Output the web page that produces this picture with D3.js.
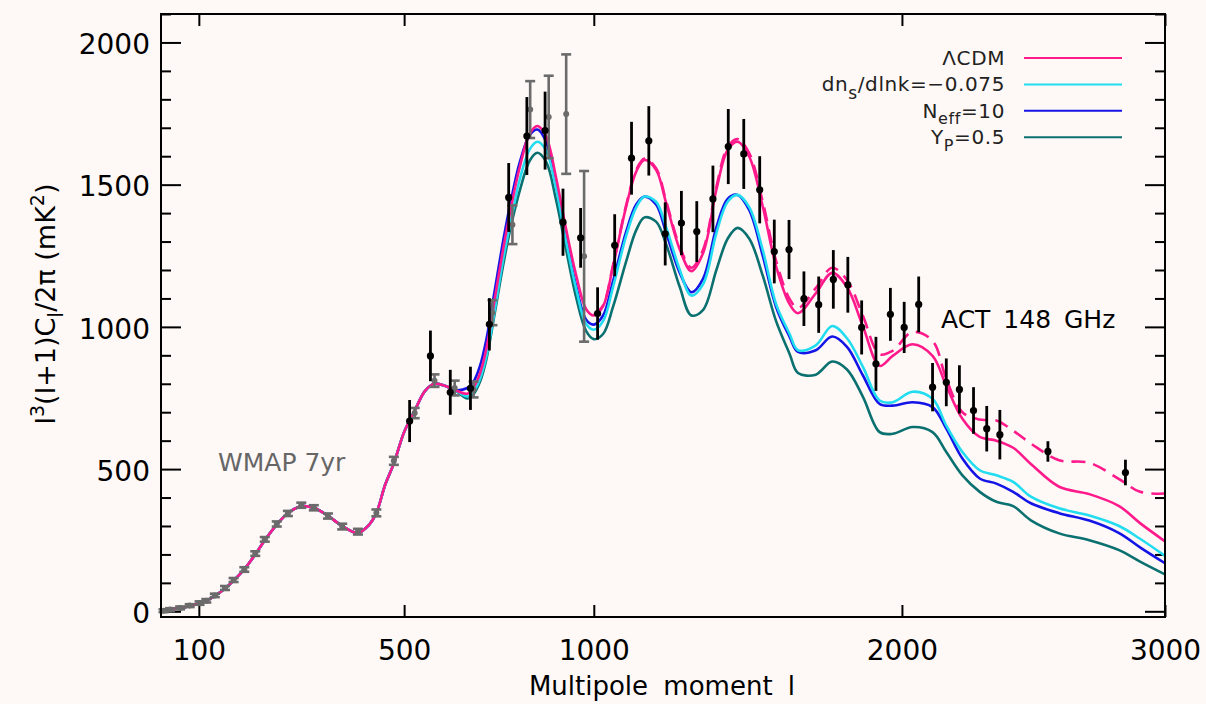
<!DOCTYPE html>
<html>
<head>
<meta charset="utf-8">
<script src="https://cdn.jsdelivr.net/npm/d3@7"></script>
<style>
  html, body { margin: 0; padding: 0; background: #fef9f6; }
  svg { display: block; font-family: "DejaVu Sans", sans-serif; }
</style>
</head>
<body>
<div id="chart"></div>
<script>

// ---- data ----
const xTicks = [100, 500, 1000, 2000, 3000]
const yTicks = [0, 500, 1000, 1500, 2000]

// low multipoles: all four models lie on top of each other
const lowEll = [50,60,75,87,100,111,124,140,154,172,191,208,230,251,277,302,331,361,395,420,436,456,476,500,525,550,573,600,623]
const lowVal = [3,6,12,19,28,37,54,80,108,148,200,250,305,345,369,364,336,300,276,305,346,445,520,630,705,775,800,792,778]

// higher multipoles, one value per model
const thEll = [655,670,687,704,725,748,770,793,820,841,865,892,921,950,978,1000,1027,1056,1095,1125,1150,1185,1216,1258,1294,1331,1373,1409,1441,1479,1523,1567,1612,1640,1700,1756,1807,1862,1921,1967,2038,2110,2160,2219,2283,2345,2408,2475,2583,2700,2817,2900,3000]
const lcdm = [765,785,834,922,1090,1271,1425,1563,1680,1706,1669,1528,1342,1178,1062,1040,1073,1213,1423,1546,1587,1552,1435,1272,1196,1260,1482,1622,1651,1598,1423,1213,1080,1048,1118,1190,1140,1003,863,898,939,898,793,677,613,600,575,518,438,412,370,310,246]
const running = [755,770,815,895,1050,1235,1380,1520,1625,1651,1620,1490,1300,1130,1010,990,1020,1140,1320,1420,1458,1440,1350,1200,1110,1150,1330,1440,1464,1420,1270,1080,975,918,935,1003,960,860,741,735,772,747,653,560,496,478,455,403,362,337,300,255,195]
const neff = [785,805,860,955,1120,1300,1450,1580,1675,1694,1650,1500,1310,1140,1025,1008,1040,1160,1335,1430,1458,1430,1330,1190,1122,1170,1350,1450,1464,1410,1250,1070,965,912,918,966,930,830,729,723,735,718,642,537,467,449,420,380,345,319,275,225,169]
const yp = [748,762,805,885,1040,1215,1360,1480,1585,1612,1580,1450,1270,1100,985,957,975,1070,1230,1340,1385,1370,1290,1140,1040,1060,1200,1310,1348,1310,1180,1020,905,838,832,878,850,755,630,624,648,630,560,478,420,385,370,320,274,250,215,175,130]

// LCDM plus secondaries (dashed), from l = 1000 up
const dashEll = [1000,1027,1056,1095,1125,1150,1185,1216,1258,1294,1331,1373,1409,1441,1479,1523,1567,1612,1640,1700,1756,1807,1862,1921,1967,2038,2110,2160,2219,2283,2345,2408,2475,2583,2700,2817,2900,3000]
const dashVal = [1042,1076,1216,1428,1552,1592,1558,1442,1282,1208,1272,1492,1632,1660,1610,1440,1232,1098,1066,1136,1208,1165,1040,904,916,982,951,817,700,674,671,635,590,531,522,465,420,414]

// WMAP 7yr band powers
const wmapEll = [53,61,74,87,101,111,124,140,154,172,191,208,230,251,277,302,331,361,395,436,476,525,573,623,671,720,773,821,872,921,972]
const wmapVal = [2,6,12,20,29,37,56,82,110,147,203,253,307,344,373,364,335,298,280,346,529,697,811,785,780,1050,1359,1764,1738,1748,1248]
const wmapErr = [5,5,5,5,6,6,6,7,7,8,8,8,9,9,9,9,9,10,10,12,14,18,22,26,28,44,68,100,145,210,300]

// ACT 148 GHz band powers
const actEll = [513,563,612,663,712,763,812,862,912,962,1011,1061,1111,1163,1213,1263,1311,1362,1411,1461,1513,1561,1610,1660,1710,1760,1810,1858,1908,1959,2008,2060,2110,2160,2208,2260,2309,2358,2540,2842]
const actVal = [669,898,770,784,1009,1455,1671,1690,1368,1313,1047,1287,1593,1654,1327,1365,1335,1450,1634,1608,1482,1265,1272,1099,1078,1167,1148,998,870,1044,998,1079,788,805,780,706,642,621,562,488]
const actErr = [74,89,79,76,92,121,137,137,118,105,92,109,128,122,111,113,107,117,132,123,118,112,104,96,99,103,98,95,95,93,90,98,85,84,85,82,80,87,36,45]

const legendKeys = ["lcdm", "running", "neff", "yp"]
const colors = { lcdm: "#ff1a8c", running: "#22dcf0", neff: "#1414e6", yp: "#0a7070" }

// ---- layout ----
const margin = {top: 14, right: 41, bottom: 87, left: 161}
const width = 1206 - margin.left - margin.right
const height = 704 - margin.top - margin.bottom

const svg = d3.select("#chart").append("svg")
    .attr("width", 1206)
    .attr("height", 704)
    .style("background", "#fef9f6")

const g = svg.append("g")
    .attr("transform", `translate(${margin.left},${margin.top})`)

const x = d3.scalePow().exponent(0.7)
    .domain([50, 3000])
    .range([0, width])

const y = d3.scaleLinear()
    .domain([-20, 2100])
    .range([height, 0])

g.append("clipPath")
    .attr("id", "clip")
    .append("rect")
    .attr("width", width)
    .attr("height", height)

// ---- axes ----
function styleAxis(sel) {
    sel.select(".domain").remove()
    sel.selectAll(".tick line").attr("stroke", "#000").attr("stroke-width", 2)
    sel.selectAll(".tick text")
        .attr("fill", "#000")
        .style("font-family", '"DejaVu Sans", sans-serif')
        .style("font-size", "28px")
}

g.append("g")
    .attr("transform", `translate(0,${height})`)
    .call(d3.axisBottom(x).tickValues(xTicks).tickSize(-12).tickPadding(23).tickFormat(d3.format("d")))
    .call(styleAxis)

g.append("g")
    .call(d3.axisTop(x).tickValues(xTicks).tickSize(-12).tickFormat(""))
    .call(styleAxis)

const yMinor = d3.range(100, 2101, 100).filter(d => d % 500 !== 0)

g.append("g")
    .call(d3.axisLeft(y).tickValues(yTicks).tickSize(-20).tickPadding(11).tickFormat(d3.format("d")))
    .call(styleAxis)
    .selectAll(".tick text").attr("dy", "0.4em")

g.append("g")
    .call(d3.axisLeft(y).tickValues(yMinor).tickSize(-10).tickFormat(""))
    .call(styleAxis)

g.append("g")
    .attr("transform", `translate(${width},0)`)
    .call(d3.axisRight(y).tickValues(yTicks).tickSize(-20).tickFormat(""))
    .call(styleAxis)

g.append("g")
    .attr("transform", `translate(${width},0)`)
    .call(d3.axisRight(y).tickValues(yMinor).tickSize(-10).tickFormat(""))
    .call(styleAxis)

// ---- model curves ----
const lineGen = d3.line()
    .x(d => x(d[0]))
    .y(d => y(d[1]))
    .curve(d3.curveCatmullRom.alpha(0.5))

const allEll = lowEll.concat(thEll)
const models = {
    lcdm: allEll.map((l, i) => [l, lowVal.concat(lcdm)[i]]),
    running: allEll.map((l, i) => [l, lowVal.concat(running)[i]]),
    neff: allEll.map((l, i) => [l, lowVal.concat(neff)[i]]),
    yp: allEll.map((l, i) => [l, lowVal.concat(yp)[i]])
}

const curves = g.append("g").attr("clip-path", "url(#clip)")

;["yp", "neff", "running", "lcdm"].forEach(k => {
    curves.append("path")
        .attr("d", lineGen(models[k]))
        .attr("fill", "none")
        .attr("stroke", colors[k])
        .attr("stroke-width", 2.6)
})

curves.append("path")
    .attr("d", lineGen(dashEll.map((l, i) => [l, dashVal[i]])))
    .attr("fill", "none")
    .attr("stroke", colors.lcdm)
    .attr("stroke-width", 2.6)
    .attr("stroke-dasharray", "14,8")

// ---- WMAP points ----
const wmap = wmapEll.map((l, i) => ({l, v: wmapVal[i], e: wmapErr[i]}))
const wg = g.append("g").attr("stroke", "#6b6b6b").attr("stroke-width", 2.6)

wg.selectAll(".wbar").data(wmap).join("line")
    .attr("class", "wbar")
    .attr("x1", d => x(d.l)).attr("x2", d => x(d.l))
    .attr("y1", d => y(d.v - d.e)).attr("y2", d => y(d.v + d.e))

wg.selectAll(".wcapTop").data(wmap).join("line")
    .attr("class", "wcapTop")
    .attr("x1", d => x(d.l) - 5).attr("x2", d => x(d.l) + 5)
    .attr("y1", d => y(d.v + d.e)).attr("y2", d => y(d.v + d.e))

wg.selectAll(".wcapBot").data(wmap).join("line")
    .attr("class", "wcapBot")
    .attr("x1", d => x(d.l) - 5).attr("x2", d => x(d.l) + 5)
    .attr("y1", d => y(d.v - d.e)).attr("y2", d => y(d.v - d.e))

g.append("g").selectAll("circle").data(wmap).join("circle")
    .attr("cx", d => x(d.l)).attr("cy", d => y(d.v))
    .attr("r", 3)
    .attr("fill", "#6b6b6b")

// ---- ACT points ----
const act = actEll.map((l, i) => ({l, v: actVal[i], e: actErr[i]}))
const ag = g.append("g")

ag.selectAll("line").data(act).join("line")
    .attr("x1", d => x(d.l)).attr("x2", d => x(d.l))
    .attr("y1", d => y(d.v - d.e)).attr("y2", d => y(d.v + d.e))
    .attr("stroke", "#000")
    .attr("stroke-width", 2.8)

ag.selectAll("circle").data(act).join("circle")
    .attr("cx", d => x(d.l)).attr("cy", d => y(d.v))
    .attr("r", 3.6)
    .attr("fill", "#000")

// frame
g.append("rect")
    .attr("width", width)
    .attr("height", height)
    .attr("fill", "none")
    .attr("stroke", "#000")
    .attr("stroke-width", 2)

// ---- annotations ----
g.append("text")
    .attr("x", 218 - margin.left)
    .attr("y", 471 - margin.top)
    .attr("fill", "#666")
    .style("font-size", "25px")
    .text("WMAP  7yr")

g.append("text")
    .attr("x", 941 - margin.left)
    .attr("y", 328 - margin.top)
    .attr("fill", "#000")
    .style("font-size", "25px")
    .style("word-spacing", "5px")
    .text("ACT 148 GHz")

// ---- legend ----
const legend = g.append("g")
    .attr("transform", `translate(0,${58 - margin.top})`)

const legendLabels = [
    [["ΛCDM", 0, 20]],
    [["dn", 0, 20], ["s", 8, 17], ["/dlnk=−0.075", -8, 20]],
    [["N", 0, 20], ["eff", 6, 16], ["=10", -6, 20]],
    [["Y", 0, 20], ["P", 7, 16], ["=0.5", -7, 20]]
]

legendKeys.forEach((k, i) => {
    const row = legend.append("g").attr("transform", `translate(0,${i * 26.4})`)
    row.append("line")
        .attr("x1", 1024 - margin.left).attr("x2", 1122 - margin.left)
        .attr("y1", 0).attr("y2", 0)
        .attr("stroke", colors[k])
        .attr("stroke-width", 2)
    const t = row.append("text")
        .attr("x", 1005 - margin.left)
        .attr("y", 7)
        .attr("text-anchor", "end")
        .style("letter-spacing", "0.6px")
        .attr("fill", "#222")
    legendLabels[i].forEach(([s, dy, fs]) => {
        t.append("tspan").attr("dy", dy).style("font-size", fs + "px").text(s)
    })
})

// ---- axis titles ----
svg.append("text")
    .attr("x", 662)
    .attr("y", 695)
    .attr("text-anchor", "middle")
    .style("font-size", "26px")
    .style("word-spacing", "7px")
    .text("Multipole moment l")

const yTitle = svg.append("text")
    .attr("transform", "translate(55,304) rotate(-90)")
    .attr("text-anchor", "middle")
    .style("font-size", "27px")

const yTitleParts = [
    ["l", 0, 27], ["3", -11, 19], ["(l+1)C", 11, 27], ["l", 8, 21],
    ["/2π  (mK", -8, 27], ["2", -11, 19], [")", 11, 27]
]
yTitleParts.forEach(([s, dy, fs]) => {
    yTitle.append("tspan").attr("dy", dy).style("font-size", fs + "px").text(s)
})

</script>
</body>
</html>
